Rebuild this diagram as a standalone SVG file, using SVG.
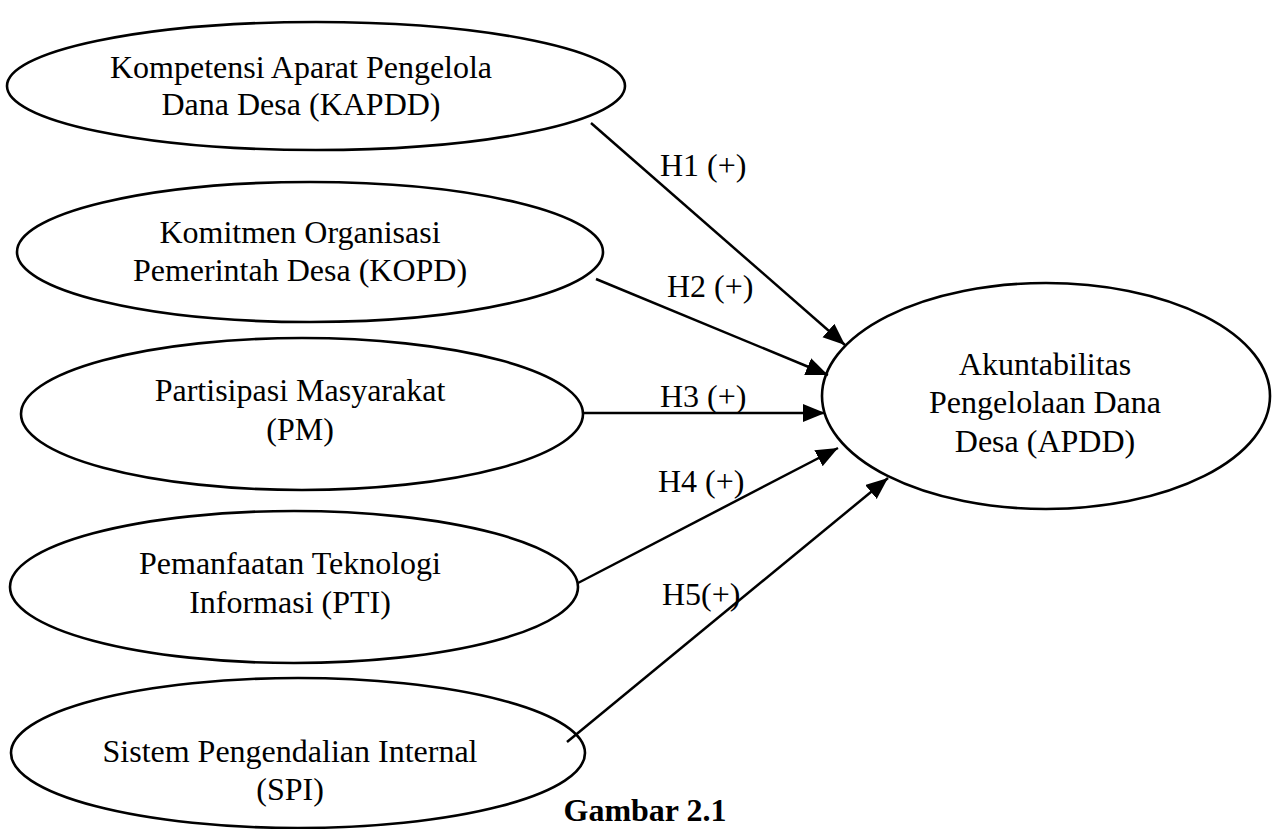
<svg xmlns="http://www.w3.org/2000/svg" width="1277" height="829" viewBox="0 0 1277 829">
<defs>
<style>
.node ellipse{fill:#fff;stroke:#000;stroke-width:2.6}
text{font-family:"Liberation Serif","Times New Roman",serif;font-size:32px;fill:#000}
.c{text-anchor:middle}
.edge line{stroke:#000;stroke-width:2.5;marker-end:url(#ah)}
.cap{font-weight:bold}
</style>
<marker id="ah" markerUnits="userSpaceOnUse" markerWidth="24" markerHeight="20" refX="22" refY="9" orient="auto">
<path d="M0,0 L22,9 L0,18 Z" fill="#000"/>
</marker>
</defs>
<rect width="1277" height="829" fill="#fff"/>
<g id="KAPDD" class="node">
<ellipse cx="316" cy="86" rx="309" ry="64"/>
<text class="c" x="301" y="78">Kompetensi Aparat Pengelola</text>
<text class="c" x="301" y="115">Dana Desa (KAPDD)</text>
</g>
<g id="KOPD" class="node">
<ellipse cx="310" cy="252" rx="293" ry="70"/>
<text class="c" x="300" y="243">Komitmen Organisasi</text>
<text class="c" x="300" y="281">Pemerintah Desa (KOPD)</text>
</g>
<g id="PM" class="node">
<ellipse cx="302" cy="414" rx="281" ry="76"/>
<text class="c" x="300" y="401">Partisipasi Masyarakat</text>
<text class="c" x="300" y="440">(PM)</text>
</g>
<g id="PTI" class="node">
<ellipse cx="294" cy="587" rx="284" ry="76"/>
<text class="c" x="290" y="574">Pemanfaatan Teknologi</text>
<text class="c" x="290" y="613">Informasi (PTI)</text>
</g>
<g id="SPI" class="node">
<ellipse cx="298" cy="753" rx="287" ry="75"/>
<text class="c" x="290" y="762">Sistem Pengendalian Internal</text>
<text class="c" x="290" y="800">(SPI)</text>
</g>
<g id="APDD" class="node">
<ellipse cx="1046" cy="396" rx="224" ry="113"/>
<text class="c" x="1045" y="375">Akuntabilitas</text>
<text class="c" x="1045" y="413">Pengelolaan Dana</text>
<text class="c" x="1045" y="452">Desa (APDD)</text>
</g>
<g id="connectors" class="edge">
<line x1="591" y1="123" x2="845" y2="345"/>
<line x1="596" y1="279" x2="828" y2="375"/>
<line x1="583" y1="413" x2="825" y2="413"/>
<line x1="578" y1="583" x2="838" y2="448"/>
<line x1="567" y1="742" x2="888" y2="478"/>
</g>
<g id="labels">
<text x="660" y="176">H1 (+)</text>
<text x="667" y="297">H2 (+)</text>
<text x="660" y="407">H3 (+)</text>
<text x="658" y="492">H4 (+)</text>
<text x="662" y="605">H5(+)</text>
</g>
<text class="cap c" x="645" y="821">Gambar 2.1</text>
</svg>
